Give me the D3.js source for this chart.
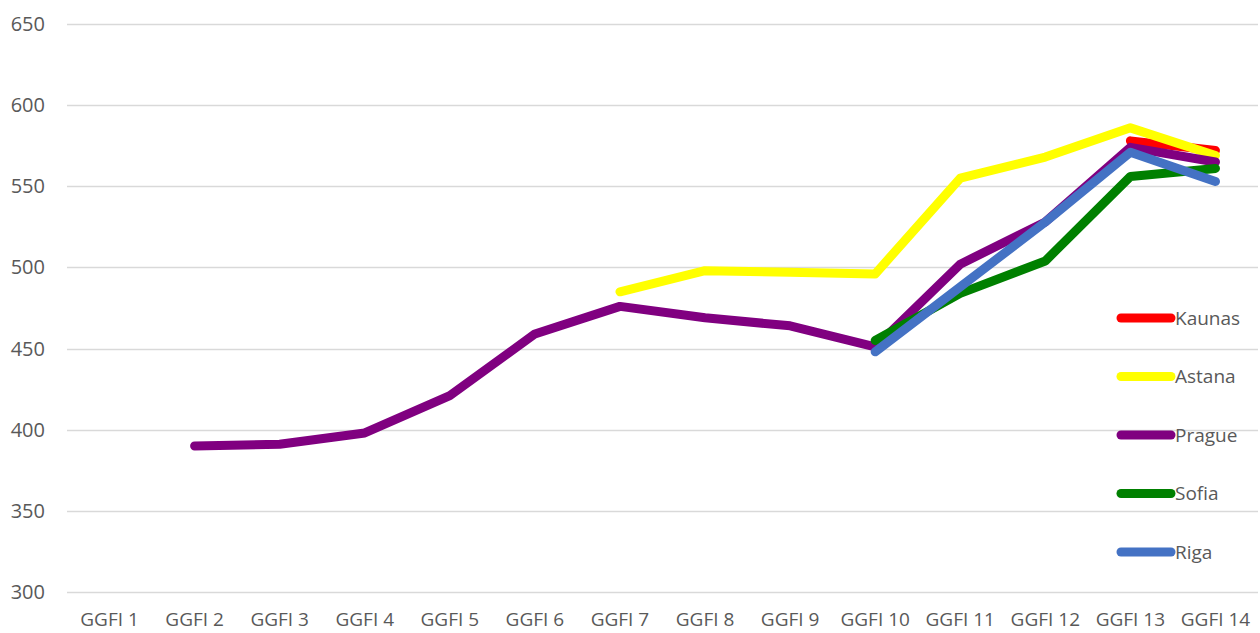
<!DOCTYPE html>
<html>
<head>
<meta charset="utf-8">
<script src="https://cdn.jsdelivr.net/npm/d3@7"></script>
<style>
  body { margin: 0; background: #fff; }
  text { font-family: "Open Sans", "Liberation Sans", sans-serif; fill: #595959; }
</style>
</head>
<body>
<div id="chart"></div>
<script>
var categories = ["GGFI 1", "GGFI 2", "GGFI 3", "GGFI 4", "GGFI 5", "GGFI 6", "GGFI 7",
                  "GGFI 8", "GGFI 9", "GGFI 10", "GGFI 11", "GGFI 12", "GGFI 13", "GGFI 14"];
var yTicks = [300, 350, 400, 450, 500, 550, 600, 650];

// null = no value for that edition
var kaunas = [null, null, null, null, null, null, null, null, null, null, null, null, 578, 572];
var astana = [null, null, null, null, null, null, 485, 498, 497, 496, 555, 568, 586, 569];
var prague = [null, 390, 391, 398, 421, 459, 476, 469, 464, 451, 502, 528, 574, 565];
var sofia  = [null, null, null, null, null, null, null, null, null, 455, 484, 504, 556, 561];
var riga   = [null, null, null, null, null, null, null, null, null, 448, 488, 528, 571, 553];

var seriesNames  = ["Kaunas", "Astana", "Prague", "Sofia", "Riga"];
var seriesValues = [kaunas, astana, prague, sofia, riga];
var seriesColors = ["#ff0000", "#ffff00", "#800080", "#008000", "#4472c4"];

var width = 1260, height = 633;
var margin = {top: 24, right: 2, bottom: 41, left: 67};

var svg = d3.select("#chart").append("svg")
    .attr("width", width)
    .attr("height", height);

var x = d3.scaleBand()
    .domain(categories)
    .range([margin.left, width - margin.right]);

var y = d3.scaleLinear()
    .domain([300, 650])
    .range([height - margin.bottom, margin.top]);

//gridlines
svg.append("g")
  .selectAll("line")
  .data(yTicks)
  .enter()
  .append("line")
    .attr("x1", margin.left)
    .attr("x2", width - margin.right)
    .attr("y1", function(d){ return Math.round(y(d)) + 0.5; })
    .attr("y2", function(d){ return Math.round(y(d)) + 0.5; })
    .attr("stroke", "#d9d9d9")
    .attr("stroke-width", 1.3);

//y labels
svg.append("g")
  .selectAll("text")
  .data(yTicks)
  .enter()
  .append("text")
    .attr("x", 45)
    .attr("y", function(d){ return y(d); })
    .attr("dy", "0.35em")
    .attr("text-anchor", "end")
    .style("font-size", "20px")
    .text(function(d){ return d; });

//x labels
svg.append("g")
  .selectAll("text")
  .data(categories)
  .enter()
  .append("text")
    .attr("x", function(d){ return x(d) + x.bandwidth() / 2; })
    .attr("y", 626)
    .attr("text-anchor", "middle")
    .style("font-size", "19px")
    .text(function(d){ return d; });

var line = d3.line()
    .defined(function(d){ return d != null; })
    .x(function(d, i){ return x(categories[i]) + x.bandwidth() / 2; })
    .y(function(d){ return y(d); });

svg.append("g")
  .selectAll("path")
  .data(seriesValues)
  .enter()
  .append("path")
    .attr("d", line)
    .attr("fill", "none")
    .attr("stroke", function(d, i){ return seriesColors[i]; })
    .attr("stroke-width", 9)
    .attr("stroke-linecap", "round")
    .attr("stroke-linejoin", "round");

//legend
var legend = svg.append("g")
  .selectAll("g")
  .data(seriesNames)
  .enter()
  .append("g")
    .attr("transform", function(d, i){ return "translate(1117," + (318 + i * 58.5) + ")"; });

legend.append("line")
    .attr("x1", 4)
    .attr("x2", 54)
    .attr("stroke", function(d, i){ return seriesColors[i]; })
    .attr("stroke-width", 9)
    .attr("stroke-linecap", "round");

legend.append("text")
    .attr("x", 58)
    .attr("dy", "0.35em")
    .style("font-size", "19px")
    .text(function(d){ return d; });
</script>
</body>
</html>
